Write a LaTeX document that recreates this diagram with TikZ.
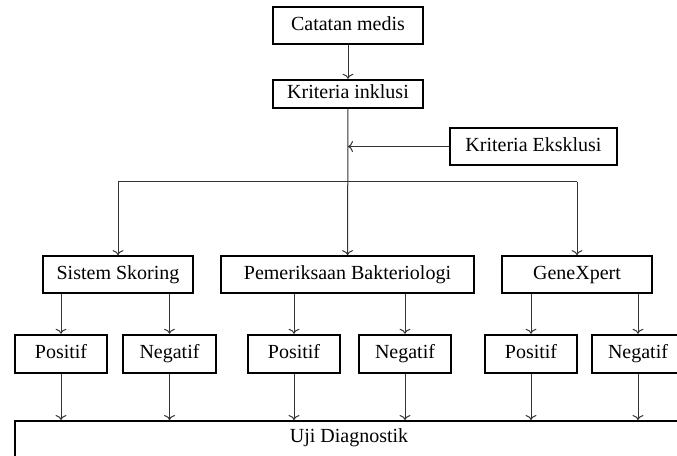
\documentclass[tikz,border=0pt]{standalone}
\usepackage{fontspec}
\setmainfont{Liberation Serif}
\usepackage{tikz}
\usetikzlibrary{arrows,arrows.meta,calc}
\tikzstyle{box} = [rectangle,draw,line width=1.2pt,inner sep=0pt,text height=8.5pt,text depth=2.5pt,font=\fontsize{12}{14}\selectfont]
\tikzstyle{link} = [draw=black!80,line width=0.6pt,>={To[length=3pt,width=6.5pt]}]

\begin{document}
\begin{tikzpicture}[x=0.6pt,y=-0.6pt]
	\useasboundingbox (0,0) rectangle (677,456);
	\clip (0,0) rectangle (677,456);
	\node[box,minimum width=90pt,minimum height=22pt] (cat) at (348,25.5) {Catatan medis};
	\node[box,minimum width=90pt,minimum height=17pt] (inkl) at (348,94) {Kriteria inklusi};
	\node[box,minimum width=100pt,minimum height=22pt] (eks) at (533.5,146.5) {Kriteria Eksklusi};
	\node[box,minimum width=90pt,minimum height=22pt] (skor) at (118,274.5) {Sistem Skoring};
	\node[box,minimum width=152pt,minimum height=22pt] (bakt) at (347.5,274.5) {Pemeriksaan Bakteriologi};
	\node[box,minimum width=90pt,minimum height=22pt] (gene) at (577,274.5) {GeneXpert};
	\node[box,minimum width=55pt,minimum height=23pt] (pos1) at (61,354) {Positif};
	\node[box,minimum width=56pt,minimum height=23pt] (neg1) at (169.5,354) {Negatif};
	\node[box,minimum width=55pt,minimum height=23pt] (pos2) at (294,354) {Positif};
	\node[box,minimum width=55pt,minimum height=23pt] (neg2) at (405,354) {Negatif};
	\node[box,minimum width=55pt,minimum height=23pt] (pos3) at (531,354) {Positif};
	\node[box,minimum width=55pt,minimum height=23pt] (neg3) at (638,354) {Negatif};
	\node[box,minimum width=401pt,minimum height=24pt,anchor=north] (uji) at (349,420) {};
	\node[font=\fontsize{12}{14}\selectfont] (ujit) at (349,438) {Uji Diagnostik};
	\coordinate (jL) at (118,182);
	\coordinate (jR) at (577,182);
	\draw[link,->] (cat) -- (inkl);
	\draw[link,->] (inkl) -- (bakt);
	\draw[link,->] (eks.west) -- (inkl.south |- eks.west);
	\draw[link] (jL) -- (jR);
	\draw[link,->] (jL) -- (skor);
	\draw[link,->] (jR) -- (gene);
	\draw[link,->] (skor.south -| pos1) -- (pos1);
	\draw[link,->] (skor.south -| neg1) -- (neg1);
	\draw[link,->] (bakt.south -| pos2) -- (pos2);
	\draw[link,->] (bakt.south -| neg2) -- (neg2);
	\draw[link,->] (gene.south -| pos3) -- (pos3);
	\draw[link,->] (gene.south -| neg3) -- (neg3);
	\foreach \n in {pos1,neg1,pos2,neg2,pos3,neg3}
		\draw[link,->] (\n) -- (\n |- uji.north);
\end{tikzpicture}
\end{document}
